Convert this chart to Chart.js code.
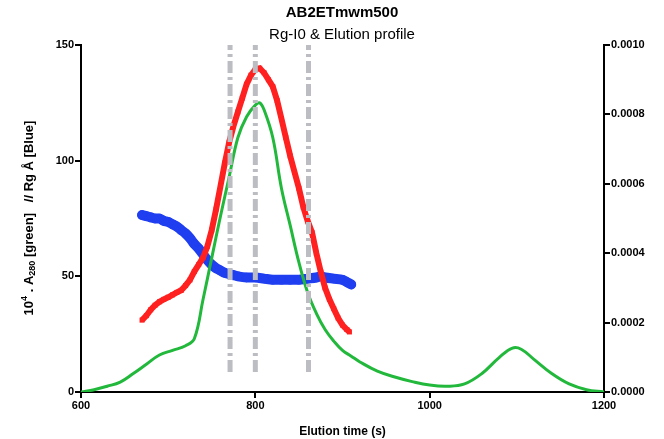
<!DOCTYPE html>
<html>
<head>
<meta charset="utf-8">
<script src="https://cdn.jsdelivr.net/npm/chart.js@4/dist/chart.umd.min.js"></script>
<style>
  html, body { margin: 0; padding: 0; background: #fff; }
  #wrap { width: 664px; height: 439px; }
</style>
</head>
<body>
<div id="wrap"><canvas id="mychart" width="664" height="439"></canvas></div>
<script>
// elution profile (green), 10^4 . A280, left axis
var greenTime = [600, 615, 630, 645, 660, 675, 690, 705, 720, 730, 740, 750, 760, 770, 780, 790, 800, 805, 810, 820, 830, 840, 850, 860, 870, 880, 890, 900, 910, 920, 940, 960, 980, 1000, 1020, 1040, 1060, 1080, 1095, 1105, 1120, 1140, 1160, 1180, 1200];
var greenA280 = [0, 1, 2.5, 4.3, 8, 12, 16, 18, 20, 23, 40, 58, 76, 93, 110, 119, 124, 125, 122, 110, 88, 72, 56, 43, 34, 27, 22, 18, 15.5, 13, 9, 6.5, 4.5, 3, 2.5, 3.5, 8, 15, 19, 18.5, 14, 8, 3.5, 1, 0];

// Rg (blue), left axis
var blueTime = [670, 675, 680, 685, 690, 695, 700, 705, 710, 715, 720, 725, 730, 735, 740, 745, 750, 755, 760, 765, 770, 775, 780, 790, 800, 810, 820, 830, 840, 850, 860, 870, 875, 880, 890, 900, 905, 910];
var blueRg = [76.5, 76, 75.5, 75, 75, 74, 73.5, 72.5, 71.5, 70, 68.5, 66.5, 64, 62, 59.5, 57, 55, 53.5, 52.5, 51.5, 51, 50.5, 50, 49.5, 49.5, 49, 48.5, 48.5, 48.5, 48.5, 49, 49.5, 50, 49.5, 49, 48.5, 47.5, 46.5];

// I0 (red), right axis
var redTime = [670, 675, 680, 685, 690, 695, 700, 705, 710, 715, 720, 725, 730, 735, 740, 745, 750, 755, 760, 765, 770, 775, 780, 785, 790, 795, 800, 805, 810, 815, 820, 825, 830, 835, 840, 845, 850, 855, 860, 865, 870, 875, 880, 885, 890, 895, 900, 905, 908];
var redI0 = [0.000207, 0.000220, 0.000237, 0.000250, 0.000260, 0.000267, 0.000273, 0.000280, 0.000287, 0.000293, 0.000307, 0.000323, 0.000347, 0.000367, 0.000387, 0.000420, 0.000467, 0.000527, 0.000593, 0.000660, 0.000720, 0.000767, 0.000807, 0.000847, 0.000887, 0.000913, 0.000930, 0.000933, 0.000920, 0.000900, 0.000880, 0.000840, 0.000787, 0.000733, 0.000680, 0.000633, 0.000587, 0.000533, 0.000493, 0.000460, 0.000400, 0.000347, 0.000300, 0.000267, 0.000240, 0.000213, 0.000193, 0.000180, 0.000173];

// frame markers (grey dash-dot lines)
var markerTimes = [771, 800, 861];
var markerRange = [8.6, 150];

var xTicks = [600, 800, 1000, 1200];
var leftTicks = [0, 50, 100, 150];
var rightTicks = [0, 0.0002, 0.0004, 0.0006, 0.0008, 0.001];

function pts(xs, ys) {
    return xs.map(function (x, i) { return { x: x, y: ys[i] }; });
}

var tickFont = { family: '"Liberation Sans", Arial, sans-serif', size: 11, weight: 'bold' };

var datasets = [];
markerTimes.forEach(function (t) {
    datasets.push({
        data: [{ x: t, y: markerRange[0] }, { x: t, y: markerRange[1] }],
        yAxisID: 'y',
        borderColor: '#bcbcc3',
        borderWidth: 5,
        borderDash: [12, 4, 3, 4],
        pointRadius: 0,
        showLine: true
    });
});
datasets.push({
    data: pts(redTime, redI0),
    yAxisID: 'y1',
    borderColor: '#ff2020',
    backgroundColor: '#ff2020',
    borderWidth: 6,
    pointStyle: 'rect',
    pointRadius: 3.5,
    pointBorderWidth: 0,
    showLine: true
});
datasets.push({
    data: pts(greenTime, greenA280),
    yAxisID: 'y',
    borderColor: '#22b83c',
    borderWidth: 3,
    tension: 0.4,
    pointRadius: 0,
    showLine: true
});
datasets.push({
    data: pts(blueTime, blueRg),
    yAxisID: 'y',
    borderColor: '#1f3ff0',
    backgroundColor: 'rgba(31,63,240,0.6)',
    borderWidth: 10,
    borderCapStyle: 'round',
    tension: 0.3,
    pointRadius: 4,
    pointBorderWidth: 1.5,
    pointBorderColor: '#1f3ff0',
    showLine: true
});

var textPlugin = {
    id: 'texts',
    afterDraw: function (chart) {
        var ctx = chart.ctx;
        var fam = '"Liberation Sans", Arial, sans-serif';
        ctx.save();
        ctx.fillStyle = '#000';
        ctx.textAlign = 'center';
        ctx.textBaseline = 'middle';
        ctx.font = 'bold 15px ' + fam;
        ctx.fillText('AB2ETmwm500', 342, 13);
        ctx.font = '15px ' + fam;
        ctx.fillText('Rg-I0 & Elution profile', 342, 35);

        // rotated left axis title with super/subscripts
        var parts = [
            { t: '10', f: 'bold 13px ' + fam, dy: 0 },
            { t: '4', f: 'bold 9px ' + fam, dy: -4 },
            { t: ' . A', f: 'bold 13px ' + fam, dy: 0 },
            { t: '280', f: 'bold 9px ' + fam, dy: 4 },
            { t: ' [green]   // Rg \u00C5 [Blue]', f: 'bold 13px ' + fam, dy: 0 }
        ];
        var total = 0;
        parts.forEach(function (p) { ctx.font = p.f; total += ctx.measureText(p.t).width; });
        ctx.translate(29, 218);
        ctx.rotate(-Math.PI / 2);
        ctx.textAlign = 'left';
        var x = -total / 2;
        parts.forEach(function (p) {
            ctx.font = p.f;
            ctx.fillText(p.t, x, p.dy);
            x += ctx.measureText(p.t).width;
        });
        ctx.restore();
    }
};

var context = document.getElementById('mychart').getContext('2d');
var chart = new Chart(context, {
    type: 'scatter',
    data: { datasets: datasets },
    options: {
        responsive: false,
        animation: false,
        layout: { padding: { top: 45, left: 0, right: 0, bottom: 0 } },
        plugins: { legend: { display: false }, tooltip: { enabled: false } },
        scales: {
            x: {
                type: 'linear',
                min: 600, max: 1200,
                afterBuildTicks: function (s) { s.ticks = xTicks.map(function (v) { return { value: v }; }); },
                afterFit: function (s) { s.height = 47; },
                ticks: { color: '#000', font: tickFont, padding: 1, callback: function (v) { return String(v); } },
                grid: { drawOnChartArea: false, tickLength: 6, color: '#000', lineWidth: 2 },
                border: { color: '#000', width: 2 },
                title: { display: true, text: 'Elution time (s)', color: '#000', font: { family: tickFont.family, size: 12, weight: 'bold' }, padding: { top: 4, bottom: 0 } }
            },
            y: {
                position: 'left',
                min: 0, max: 150,
                afterBuildTicks: function (s) { s.ticks = leftTicks.map(function (v) { return { value: v }; }); },
                afterFit: function (s) { s.width = 81; },
                ticks: { color: '#000', font: tickFont, padding: 1 },
                grid: { drawOnChartArea: false, tickLength: 6, color: '#000', lineWidth: 2 },
                border: { color: '#000', width: 2 }
            },
            y1: {
                position: 'right',
                min: 0, max: 0.001,
                afterBuildTicks: function (s) { s.ticks = rightTicks.map(function (v) { return { value: v }; }); },
                afterFit: function (s) { s.width = 60; },
                ticks: { color: '#000', font: tickFont, padding: 1, callback: function (v) { return v.toFixed(4); } },
                grid: { drawOnChartArea: false, tickLength: 6, color: '#000', lineWidth: 2 },
                border: { color: '#000', width: 2 }
            }
        }
    },
    plugins: [textPlugin]
});
</script>
</body>
</html>
